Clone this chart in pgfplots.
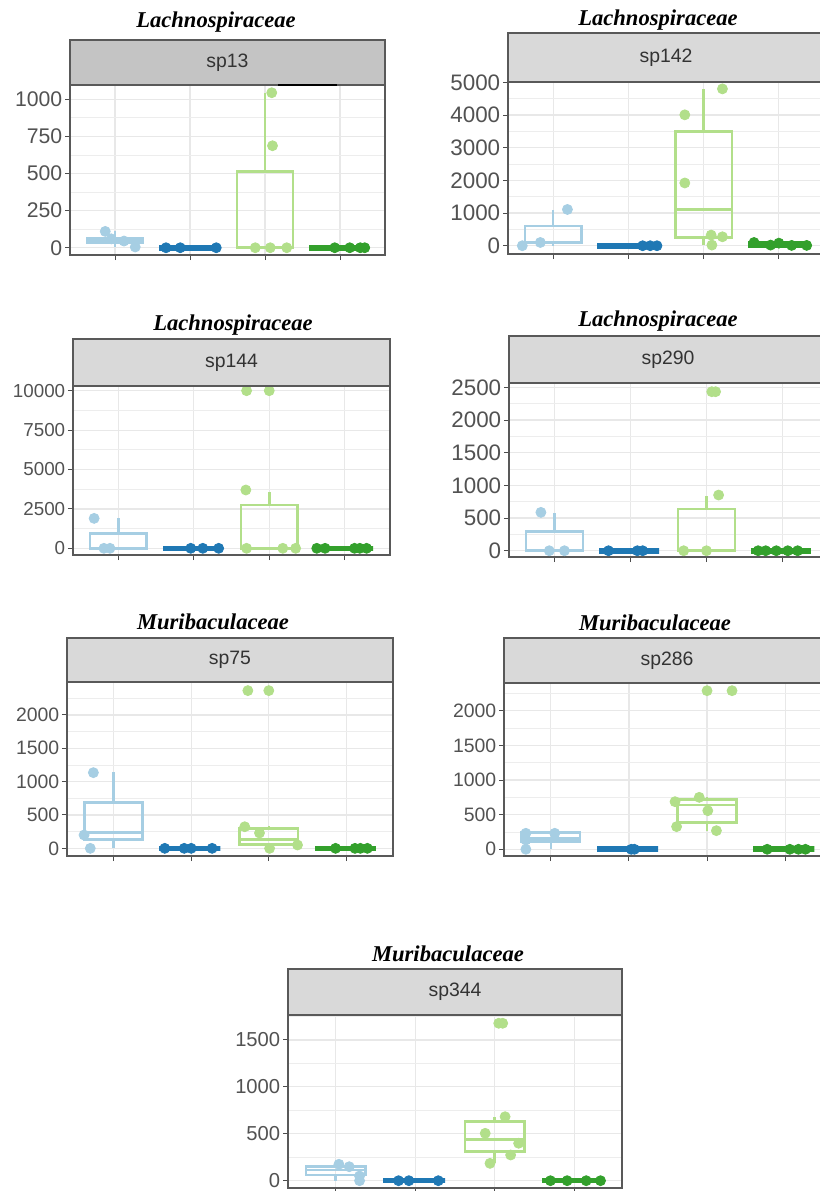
\documentclass[border=0pt]{standalone}
\usepackage{fontspec}
\setmainfont{Liberation Sans}
\newfontfamily\titlefont{Liberation Serif}
\usepackage{pgfplots}
\pgfplotsset{compat=1.18}

% Paired palette
\definecolor{lb}{HTML}{A6CEE3}
\definecolor{db}{HTML}{1F78B4}
\definecolor{lg}{HTML}{B2DF8A}
\definecolor{dg}{HTML}{33A02C}
\definecolor{stripA}{HTML}{C4C4C4}
\definecolor{stripB}{HTML}{D9D9D9}

\newcommand\ttl{\titlefont\bfseries\itshape\fontsize{11.3}{13}\selectfont}
\newcommand\stp{\fontsize{9.7}{11}\selectfont}

\pgfplotsset{
  facet/.style={
    scale only axis, clip=false,
    xmin=0.4, xmax=4.6,
    xtick={1,2,3,4}, xticklabels={},
    xtick pos=bottom, ytick pos=left,
    tick align=outside, major tick length=2.5pt, minor tick length=0pt,
    tick style={black!70, line width=0.5pt},
    grid=both,
    major grid style={black!9, line width=0.6pt},
    minor grid style={black!7, line width=0.35pt},
    axis line style={black!65, line width=0.6pt},
    scaled y ticks=false,
    /pgf/number format/1000 sep={},
    /pgf/number format/assume math mode=true,
    yticklabel style={text=black!68, inner sep=1.2pt},
  },
  pts/.style={only marks, mark=*, mark size=2.5pt},
  bw/.style={line width=1.3pt},
  fl/.style={line width=2.8pt},
}

% box and whiskers: #1 style, #2 position, #3 lower whisker, #4 lower quartile,
% #5 median, #6 upper quartile, #7 upper whisker
\newcommand\bxp[7]{%
  \pgfmathsetmacro\bxl{#2-0.375}\pgfmathsetmacro\bxr{#2+0.375}%
  \edef\bxtmp{%
    \noexpand\addplot[#1, line cap=rect] coordinates {(\bxl,#4) (\bxr,#4) (\bxr,#6) (\bxl,#6) (\bxl,#4)};
    \noexpand\addplot[#1] coordinates {(\bxl,#5) (\bxr,#5)};
    \noexpand\addplot[#1] coordinates {(#2,#6) (#2,#7)};
    \noexpand\addplot[#1] coordinates {(#2,#4) (#2,#3)};
  }\bxtmp}

\begin{document}
\begin{tikzpicture}
\clip (0pt,0pt) rectangle (410pt,-595.5pt);
\path[use as bounding box] (0pt,0pt) rectangle (410pt,-595.5pt);

% ---------------- sp13 ----------------
\begin{axis}[facet, at={(35pt,-127.5pt)}, anchor=south west,
  width=157.5pt, height=85pt, ymin=-49, ymax=1096,
  ytick={0,250,500,750,1000}, minor ytick={125,375,625,875},
  yticklabel style={font=\fontsize{10.6}{12}\selectfont}]
\bxp{lb, bw}{1}{5}{35}{50}{65}{110}
\addplot[lb, pts] coordinates {(0.87,110) (1.27,5) (0.95,60) (1.12,45)};
\bxp{db, fl}{2}{0}{0}{0}{0}{0}
\addplot[db, pts] coordinates {(1.68,0) (1.87,0) (2.35,0)};
\bxp{lg, bw}{3}{0}{0}{0}{515}{1044}
\addplot[lg, pts] coordinates {(3.09,1044) (3.10,687) (2.87,0) (3.07,0) (3.29,0)};
\bxp{dg, fl}{4}{0}{0}{0}{0}{0}
\addplot[dg, pts] coordinates {(3.93,0) (4.13,0) (4.27,0) (4.33,0)};
\end{axis}
\draw[fill=stripA, draw=black!65, line width=0.6pt] (35pt,-20pt) rectangle (192.5pt,-42.5pt);
\draw[black, line width=1pt] (139pt,-42.5pt) -- (168.5pt,-42.5pt);
\node[font=\stp, text=black!80] at (113.75pt,-31.25pt) {sp13};
\node[font=\ttl, anchor=base] at (108pt,-13.7pt) {Lachnospiraceae};

% ---------------- sp142 ----------------
\begin{axis}[facet, at={(254pt,-127pt)}, anchor=south west,
  width=158pt, height=86pt, ymin=-253, ymax=5010,
  ytick={0,1000,2000,3000,4000,5000}, minor ytick={500,1500,2500,3500,4500},
  yticklabel style={font=\fontsize{11.2}{13}\selectfont}]
\bxp{lb, bw}{1}{0}{90}{110}{600}{1100}
\addplot[lb, pts] coordinates {(0.59,0) (0.83,100) (1.19,1110)};
\bxp{db, fl}{2}{0}{0}{0}{0}{0}
\addplot[db, pts] coordinates {(2.19,0) (2.29,0) (2.38,0)};
\bxp{lg, bw}{3}{20}{256}{1110}{3497}{4800}
\addplot[lg, pts] coordinates {(2.75,4006) (2.75,1921) (3.25,4800) (3.10,326) (3.11,20) (3.25,274)};
\bxp{dg, fl}{4}{0}{10}{20}{60}{100}
\addplot[dg, pts] coordinates {(3.67,100) (3.89,20) (4.0,80) (4.17,10) (4.37,10)};
\end{axis}
\draw[fill=stripB, draw=black!65, line width=0.6pt] (254pt,-16.5pt) rectangle (412pt,-41pt);
\node[font=\stp, text=black!80] at (333pt,-28.75pt) {sp142};
\node[font=\ttl, anchor=base] at (329pt,-12.5pt) {Lachnospiraceae};

% ---------------- sp144 ----------------
\begin{axis}[facet, at={(36.5pt,-277.5pt)}, anchor=south west,
  width=158.5pt, height=84.5pt, ymin=-425, ymax=10298,
  ytick={0,2500,5000,7500,10000}, minor ytick={1250,3750,6250,8750},
  yticklabel style={font=\fontsize{9.4}{11}\selectfont}]
\bxp{lb, bw}{1}{0}{0}{0}{950}{1900}
\addplot[lb, pts] coordinates {(0.68,1900) (0.81,0) (0.89,0)};
\bxp{db, fl}{2}{0}{0}{0}{0}{0}
\addplot[db, pts] coordinates {(1.96,0) (2.12,0) (2.33,0)};
\bxp{lg, bw}{3}{0}{0}{0}{2750}{3600}
\addplot[lg, pts] coordinates {(2.70,10000) (3.0,10000) (2.69,3700) (2.70,0) (3.18,0) (3.35,0)};
\bxp{dg, fl}{4}{0}{0}{0}{0}{0}
\addplot[dg, pts] coordinates {(3.63,0) (3.74,0) (4.13,0) (4.20,0) (4.29,0)};
\end{axis}
\draw[fill=stripB, draw=black!65, line width=0.6pt] (36.5pt,-169.5pt) rectangle (195pt,-193pt);
\node[font=\stp, text=black!80] at (115.75pt,-181.25pt) {sp144};
\node[font=\ttl, anchor=base] at (116.5pt,-165pt) {Lachnospiraceae};

% ---------------- sp290 ----------------
\begin{axis}[facet, at={(254.5pt,-278.5pt)}, anchor=south west,
  width=159.5pt, height=87pt, ymin=-96, ymax=2566,
  ytick={0,500,1000,1500,2000,2500}, minor ytick={250,750,1250,1750,2250},
  yticklabel style={font=\fontsize{11.2}{13}\selectfont}]
\bxp{lb, bw}{1}{0}{0}{0}{290}{570}
\addplot[lb, pts] coordinates {(0.82,587) (0.93,0) (1.13,0)};
\bxp{db, fl}{2}{0}{0}{0}{0}{0}
\addplot[db, pts] coordinates {(1.71,0) (2.09,0) (2.16,0)};
\bxp{lg, bw}{3}{0}{0}{0}{640}{830}
\addplot[lg, pts] coordinates {(3.07,2433) (3.12,2433) (3.16,852) (2.70,0) (3.0,0)};
\bxp{dg, fl}{4}{0}{0}{0}{0}{0}
\addplot[dg, pts] coordinates {(3.68,0) (3.78,0) (3.92,0) (4.07,0) (4.20,0)};
\end{axis}
\draw[fill=stripB, draw=black!65, line width=0.6pt] (254.5pt,-168pt) rectangle (414pt,-191.5pt);
\node[font=\stp, text=black!80] at (334pt,-179.75pt) {sp290};
\node[font=\ttl, anchor=base] at (329pt,-163.3pt) {Lachnospiraceae};

% ---------------- sp75 ----------------
\begin{axis}[facet, at={(33.5pt,-428pt)}, anchor=south west,
  width=163pt, height=87pt, ymin=-115, ymax=2494,
  ytick={0,500,1000,1500,2000}, minor ytick={250,750,1250,1750,2250},
  yticklabel style={font=\fontsize{9.7}{11}\selectfont}]
\bxp{lb, bw}{1}{0}{130}{240}{684}{1150}
\addplot[lb, pts] coordinates {(0.74,1135) (0.62,200) (0.70,0)};
\bxp{db, fl}{2}{0}{0}{0}{0}{0}
\addplot[db, pts] coordinates {(1.66,0) (1.91,0) (2.0,0) (2.27,0)};
\bxp{lg, bw}{3}{0}{60}{130}{300}{330}
\addplot[lg, pts] coordinates {(2.73,2365) (3.0,2365) (2.69,324) (2.88,230) (3.01,0) (3.37,50)};
\bxp{dg, fl}{4}{0}{0}{0}{0}{0}
\addplot[dg, pts] coordinates {(3.86,0) (4.11,0) (4.18,0) (4.27,0)};
\end{axis}
\draw[fill=stripB, draw=black!65, line width=0.6pt] (33.5pt,-319pt) rectangle (196.5pt,-341pt);
\node[font=\stp, text=black!80] at (115pt,-330pt) {sp75};
\node[font=\ttl, anchor=base] at (106.5pt,-314.7pt) {Muribaculaceae};

% ---------------- sp286 ----------------
\begin{axis}[facet, at={(252pt,-428pt)}, anchor=south west,
  width=164pt, height=86.5pt, ymin=-97, ymax=2400,
  ytick={0,500,1000,1500,2000}, minor ytick={250,750,1250,1750,2250},
  yticklabel style={font=\fontsize{9.7}{11}\selectfont}]
\bxp{lb, bw}{1}{0}{110}{160}{240}{240}
\addplot[lb, pts] coordinates {(0.68,231) (0.68,0) (1.05,231) (0.68,134)};
\bxp{db, fl}{2}{0}{0}{0}{0}{0}
\addplot[db, pts] coordinates {(2.03,0) (2.07,0)};
\bxp{lg, bw}{3}{269}{384}{640}{721}{750}
\addplot[lg, pts] coordinates {(2.59,687) (2.90,750) (3.01,557) (2.61,327) (3.12,269) (3.0,2289) (3.32,2289)};
\bxp{dg, fl}{4}{0}{0}{0}{0}{0}
\addplot[dg, pts] coordinates {(3.77,0) (4.06,0) (4.17,0) (4.26,0)};
\end{axis}
\draw[fill=stripB, draw=black!65, line width=0.6pt] (252pt,-319pt) rectangle (416pt,-341.5pt);
\node[font=\stp, text=black!80] at (333.5pt,-330.25pt) {sp286};
\node[font=\ttl, anchor=base] at (327.5pt,-315pt) {Muribaculaceae};

% ---------------- sp344 ----------------
\begin{axis}[facet, at={(144pt,-594pt)}, anchor=south west,
  width=167pt, height=86.5pt, ymin=-78, ymax=1766,
  ytick={0,500,1000,1500}, minor ytick={250,750,1250,1750},
  yticklabel style={font=\fontsize{10.1}{12}\selectfont}]
\bxp{lb, bw}{1}{0}{61}{114}{149}{175}
\addplot[lb, pts] coordinates {(1.04,175) (1.17,149) (1.30,50) (1.30,0)};
\bxp{db, fl}{2}{0}{0}{0}{0}{0}
\addplot[db, pts] coordinates {(1.79,0) (1.92,0) (2.29,0)};
\bxp{lg, bw}{3}{185}{309}{441}{629}{682}
\addplot[lg, pts] coordinates {(3.05,1678) (3.10,1678) (3.13,682) (2.88,505) (3.30,399) (3.20,274) (2.94,185)};
\bxp{dg, fl}{4}{0}{0}{0}{0}{0}
\addplot[dg, pts] coordinates {(3.70,0) (3.91,0) (4.15,0) (4.33,0)};
\end{axis}
\draw[fill=stripB, draw=black!65, line width=0.6pt] (144pt,-484.5pt) rectangle (311pt,-507.5pt);
\node[font=\stp, text=black!80] at (227.5pt,-496pt) {sp344};
\node[font=\ttl, anchor=base] at (224pt,-480.8pt) {Muribaculaceae};
\end{tikzpicture}
\end{document}
